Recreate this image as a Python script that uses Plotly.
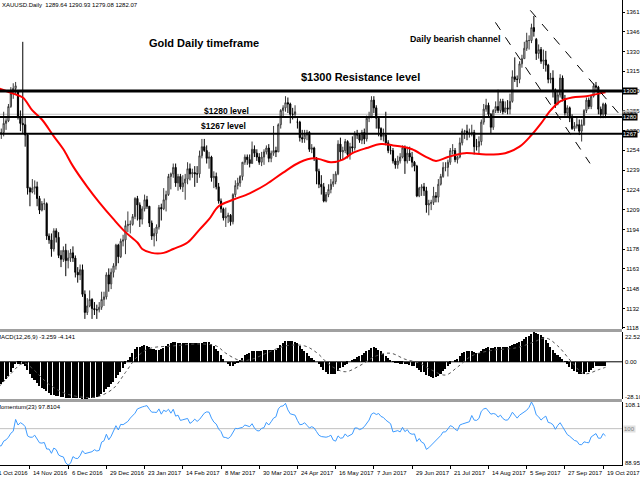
import plotly.graph_objects as go

# ---------------- data ----------------
tick_dates = ["21 Oct 2016", "14 Nov 2016", "6 Dec 2016", "29 Dec 2016", "23 Jan 2017",
              "14 Feb 2017", "8 Mar 2017", "30 Mar 2017", "24 Apr 2017", "16 May 2017",
              "7 Jun 2017", "29 Jun 2017", "21 Jul 2017", "14 Aug 2017", "5 Sep 2017",
              "27 Sep 2017", "19 Oct 2017"]
tick_bars = [0, 16, 32, 48, 64, 80, 96, 112, 128, 144, 160, 176, 192, 208, 224, 240, 256]

open_ = [1267, 1266, 1263, 1273, 1267, 1268, 1275, 1277, 1288, 1298,
         1302, 1300, 1280, 1275, 1274, 1266, 1225, 1222, 1225, 1226,
         1217, 1208, 1213, 1213, 1188, 1185, 1178, 1192, 1187, 1173,
         1170, 1177, 1169, 1171, 1175, 1171, 1160, 1158, 1162, 1143,
         1129, 1134, 1139, 1132, 1131, 1131, 1133, 1139, 1141, 1158,
         1151, 1160, 1165, 1181, 1172, 1184, 1185, 1196, 1197, 1197,
         1203, 1217, 1212, 1201, 1209, 1216, 1211, 1198, 1188, 1190,
         1195, 1210, 1209, 1216, 1220, 1234, 1236, 1241, 1229, 1234,
         1226, 1229, 1232, 1240, 1236, 1237, 1236, 1236, 1250, 1257,
         1254, 1248, 1249, 1233, 1234, 1226, 1215, 1209, 1202, 1203,
         1204, 1199, 1220, 1227, 1229, 1234, 1245, 1249, 1247, 1244,
         1255, 1252, 1249, 1245, 1249, 1253, 1256, 1248, 1252, 1254,
         1253, 1274, 1285, 1287, 1291, 1290, 1282, 1282, 1276, 1276,
         1264, 1263, 1266, 1268, 1255, 1256, 1248, 1238, 1228, 1226,
         1215, 1220, 1224, 1228, 1230, 1236, 1259, 1253, 1254, 1261,
         1251, 1257, 1256, 1267, 1266, 1262, 1268, 1263, 1279, 1280,
         1293, 1287, 1279, 1271, 1265, 1266, 1260, 1254, 1254, 1246,
         1243, 1246, 1249, 1256, 1246, 1252, 1249, 1245, 1242, 1219,
         1225, 1226, 1223, 1212, 1213, 1214, 1219, 1218, 1228, 1234,
         1241, 1241, 1245, 1254, 1254, 1247, 1249, 1260, 1269, 1269,
         1267, 1268, 1268, 1257, 1257, 1261, 1276, 1286, 1289, 1282,
         1272, 1285, 1288, 1285, 1292, 1284, 1287, 1286, 1292, 1311,
         1309, 1309, 1321, 1325, 1333, 1339, 1339, 1349, 1340, 1329,
         1332, 1323, 1324, 1320, 1309, 1310, 1301, 1290, 1297, 1310,
         1294, 1283, 1287, 1279, 1271, 1273, 1274, 1269, 1274, 1285,
         1293, 1288, 1296, 1304, 1303, 1286, 1282, 1289.64]

high = [1270, 1268, 1276, 1277, 1271, 1284, 1279, 1290, 1303, 1306,
        1307, 1300, 1285, 1338, 1280, 1267, 1226, 1232, 1231, 1230,
        1219, 1215, 1217, 1214, 1190, 1190, 1194, 1194, 1191, 1177,
        1180, 1182, 1177, 1178, 1180, 1173, 1164, 1166, 1166, 1146,
        1140, 1146, 1140, 1137, 1135, 1137, 1145, 1145, 1160, 1163,
        1163, 1167, 1182, 1182, 1186, 1189, 1200, 1207, 1200, 1205,
        1218, 1219, 1214, 1211, 1220, 1219, 1211, 1200, 1194, 1197,
        1212, 1213, 1225, 1223, 1236, 1237, 1244, 1244, 1236, 1236,
        1235, 1236, 1245, 1244, 1240, 1242, 1242, 1254, 1263, 1263,
        1258, 1253, 1250, 1238, 1237, 1229, 1217, 1210, 1210, 1206,
        1205, 1221, 1231, 1233, 1235, 1245, 1251, 1251, 1251, 1261,
        1258, 1255, 1252, 1253, 1255, 1258, 1259, 1254, 1273, 1257,
        1275, 1286, 1289, 1296, 1295, 1291, 1287, 1289, 1279, 1277,
        1270, 1270, 1270, 1269, 1259, 1257, 1249, 1240, 1235, 1229,
        1222, 1228, 1232, 1236, 1238, 1262, 1264, 1257, 1263, 1262,
        1260, 1265, 1269, 1270, 1267, 1270, 1271, 1281, 1284, 1296,
        1296, 1289, 1280, 1272, 1271, 1284, 1262, 1258, 1256, 1248,
        1250, 1252, 1258, 1258, 1257, 1257, 1253, 1246, 1243, 1226,
        1228, 1229, 1226, 1216, 1216, 1226, 1222, 1232, 1236, 1245,
        1245, 1247, 1256, 1259, 1256, 1250, 1264, 1271, 1270, 1274,
        1271, 1274, 1270, 1263, 1265, 1278, 1290, 1294, 1291, 1283,
        1286, 1292, 1301, 1294, 1294, 1292, 1293, 1298, 1316, 1326,
        1312, 1323, 1328, 1338, 1345, 1343, 1352, 1358, 1341, 1336,
        1334, 1332, 1331, 1321, 1314, 1316, 1302, 1300, 1313, 1312,
        1297, 1289, 1288, 1282, 1276, 1280, 1278, 1278, 1286, 1295,
        1295, 1297, 1306, 1307, 1304, 1288, 1291, 1290.93]

low = [1260, 1261, 1262, 1266, 1263, 1265, 1270, 1276, 1287, 1294,
       1297, 1278, 1269, 1267, 1257, 1220, 1211, 1221, 1220, 1211,
       1205, 1207, 1208, 1185, 1182, 1172, 1176, 1183, 1171, 1164,
       1168, 1157, 1163, 1168, 1168, 1156, 1152, 1154, 1141, 1124,
       1127, 1133, 1124, 1127, 1124, 1129, 1131, 1134, 1139, 1145,
       1147, 1156, 1162, 1167, 1171, 1180, 1174, 1191, 1190, 1196,
       1201, 1200, 1195, 1197, 1207, 1209, 1195, 1185, 1180, 1184,
       1193, 1200, 1208, 1207, 1219, 1224, 1233, 1226, 1223, 1224,
       1222, 1216, 1228, 1231, 1233, 1226, 1229, 1233, 1248, 1253,
       1244, 1240, 1230, 1225, 1224, 1213, 1206, 1200, 1195, 1198,
       1196, 1197, 1218, 1224, 1226, 1231, 1243, 1243, 1241, 1244,
       1249, 1246, 1243, 1242, 1243, 1251, 1245, 1245, 1250, 1249,
       1253, 1271, 1280, 1284, 1283, 1275, 1278, 1279, 1271, 1261,
       1260, 1260, 1262, 1253, 1252, 1246, 1228, 1225, 1220, 1214,
       1214, 1218, 1221, 1226, 1228, 1235, 1246, 1247, 1252, 1248,
       1247, 1253, 1254, 1263, 1260, 1259, 1259, 1261, 1276, 1279,
       1283, 1271, 1265, 1262, 1261, 1258, 1252, 1251, 1244, 1240,
       1240, 1244, 1248, 1236, 1244, 1246, 1241, 1238, 1218, 1218,
       1219, 1219, 1206, 1204, 1208, 1212, 1214, 1214, 1227, 1233,
       1238, 1234, 1243, 1251, 1245, 1244, 1248, 1258, 1263, 1262,
       1264, 1265, 1251, 1254, 1252, 1258, 1274, 1284, 1280, 1267,
       1270, 1283, 1283, 1283, 1282, 1283, 1282, 1282, 1291, 1307,
       1303, 1306, 1318, 1325, 1331, 1332, 1337, 1342, 1324, 1325,
       1321, 1317, 1315, 1306, 1306, 1295, 1287, 1289, 1295, 1292,
       1281, 1280, 1276, 1270, 1269, 1271, 1266, 1261, 1273, 1283,
       1286, 1286, 1295, 1299, 1282, 1279, 1279, 1279.08]

close = [1266, 1263, 1273, 1267, 1268, 1275, 1277, 1288, 1298, 1302,
         1304, 1280, 1275, 1274, 1266, 1225, 1222, 1225, 1226, 1217,
         1208, 1213, 1213, 1188, 1185, 1178, 1192, 1187, 1173, 1170,
         1177, 1169, 1171, 1175, 1171, 1160, 1158, 1162, 1143, 1129,
         1134, 1139, 1132, 1131, 1131, 1133, 1139, 1141, 1158, 1151,
         1160, 1165, 1181, 1172, 1184, 1185, 1196, 1197, 1197, 1203,
         1217, 1212, 1201, 1209, 1216, 1211, 1198, 1188, 1190, 1195,
         1210, 1209, 1216, 1220, 1234, 1236, 1241, 1229, 1234, 1226,
         1229, 1232, 1240, 1236, 1237, 1236, 1236, 1250, 1257, 1254,
         1248, 1249, 1233, 1234, 1226, 1215, 1209, 1202, 1203, 1204,
         1199, 1220, 1227, 1229, 1234, 1245, 1249, 1247, 1244, 1255,
         1252, 1249, 1245, 1249, 1253, 1256, 1248, 1252, 1254, 1253,
         1274, 1285, 1287, 1291, 1290, 1282, 1282, 1284, 1276, 1264,
         1263, 1266, 1268, 1255, 1256, 1248, 1238, 1228, 1226, 1215,
         1220, 1224, 1228, 1230, 1236, 1259, 1253, 1254, 1261, 1251,
         1257, 1256, 1267, 1266, 1262, 1268, 1263, 1279, 1280, 1293,
         1287, 1279, 1271, 1265, 1266, 1260, 1254, 1254, 1246, 1243,
         1246, 1249, 1256, 1246, 1252, 1249, 1245, 1242, 1219, 1225,
         1226, 1223, 1212, 1213, 1214, 1219, 1218, 1228, 1234, 1241,
         1241, 1245, 1254, 1254, 1247, 1249, 1260, 1269, 1269, 1267,
         1268, 1268, 1257, 1257, 1261, 1276, 1286, 1289, 1282, 1272,
         1285, 1288, 1285, 1292, 1284, 1287, 1286, 1292, 1311, 1309,
         1309, 1321, 1325, 1333, 1339, 1339, 1349, 1346, 1329, 1332,
         1323, 1324, 1320, 1309, 1310, 1301, 1290, 1297, 1310, 1294,
         1283, 1287, 1279, 1271, 1273, 1274, 1269, 1274, 1285, 1293,
         1288, 1296, 1304, 1303, 1286, 1282, 1290, 1282.07]

# red moving average (bar number, price)
ma_bar = [3, 9, 13, 17, 21, 26, 30, 34, 40, 45, 51, 56, 61, 63, 67, 72, 76, 82, 87, 91,
          95, 101, 108, 115, 122, 129, 135, 138, 142, 147, 151, 157, 163, 168, 172, 176,
          182, 186, 191, 198, 207, 215, 221, 226, 230, 234, 238, 243, 249, 254, 257]
ma_val = [1302, 1298, 1295, 1285, 1278, 1265, 1255, 1242, 1226, 1214, 1201, 1191, 1183, 1178,
          1175, 1175, 1178, 1183, 1193, 1201, 1211, 1216, 1221, 1228, 1237, 1245, 1248, 1247,
          1245, 1247, 1252, 1256, 1259, 1258, 1257, 1255, 1249, 1246, 1249, 1252, 1251, 1252,
          1257, 1266, 1275, 1285, 1292, 1295, 1296, 1298, 1299]

macd = [-22, -21, -19.5, -18, -17, -15, -13, -10.5, -7.5, -4.5,
        -2, -1.5, -1.5, -2, -3, -6.5, -9.5, -12, -14, -16,
        -18, -19.5, -20.5, -22, -23.5, -25, -25, -25.5, -26, -26.5,
        -26.5, -27, -27, -27, -27, -27, -27.5, -27.5, -28, -28.1,
        -28, -27.5, -27.5, -27, -26.5, -25.5, -24, -22.5, -20.5, -19,
        -17, -15, -12, -10, -7.5, -5, -1.5, 1.5, 4, 6.5,
        9.5, 11, 11.5, 12, 12.5, 12, 11, 10, 9.5, 9,
        9, 9.5, 10.5, 12, 13.5, 14.5, 15, 15, 14.5, 14,
        14, 14, 14, 14, 14, 14, 14, 14, 14.5, 15,
        15, 15, 13.5, 12, 10, 8, 5.5, 2.5, 0, -2,
        -3, -3, -2, -1, 1, 3, 5, 6, 7, 8,
        8.5, 8.5, 8.5, 8.5, 9, 9, 9, 9, 9, 9,
        10.5, 13, 14.5, 15.5, 16, 16, 15.5, 15, 14, 12,
        10, 8, 6.5, 4.5, 3, 1.5, 0, -2, -4, -6.5,
        -8, -9, -9.5, -9.5, -9, -7, -5, -4, -2.5, -1.5,
        0, 1, 2, 3.5, 4.5, 5.5, 6.5, 8, 9, 10.5,
        11, 10.5, 9, 8, 6, 4.5, 3, 1.5, 0.5, -0.5,
        -1, -1.5, -1.5, -2, -2, -2.5, -3, -3.5, -5, -6.5,
        -7.5, -8, -10, -11, -11.5, -12, -11.5, -10.5, -9, -7,
        -5.5, -3.5, -1.5, 0, 1, 2.5, 4.5, 6.5, 7.5, 8.5,
        8.5, 8.5, 7.5, 7, 7, 8, 9.5, 10.5, 11, 10.5,
        10.5, 11, 11, 11.5, 11.5, 11.5, 11.5, 12, 13, 13.5,
        14, 15, 16, 17, 18.5, 19.5, 21, 22.52, 21.5, 21,
        20.5, 18.5, 16.5, 14.5, 11.5, 9, 6.5, 5, 4, 2.5,
        0.5, -1.5, -4, -5.5, -7, -8, -9, -9.5, -9, -8,
        -7.5, -6.5, -4.5, -3, -3, -3.5, -3, -3.259]

sig_bar = [3, 8, 12, 14, 17, 24, 31, 40, 45, 51, 56, 61, 66, 76, 87, 94, 98, 104, 109, 115,
           123, 131, 136, 142, 148, 154, 161, 167, 173, 179, 184, 190, 195, 201, 209, 220,
           227, 232, 237, 243, 248, 254, 257]
sig_val = [-19, -9, -2, -1, -5, -17, -24, -27, -26, -20, -8, 4, 10, 12, 13.5, 12, 6.5, 1, 2, 6.5,
           12, 12, 7, -3, -7.5, -3, 4.5, 6.5, 2, -1, -6, -10, -4, 4.5, 8.5, 10.7,
           15, 18, 12, -0.5, -9, -6, -4.141]

momentum = [96.3, 94.7, 95.3, 94.7, 94.8, 96.2, 96.6, 97.4, 98.6, 99.2,
            102.8, 101.1, 101.8, 101.4, 100.6, 97.8, 97.4, 97.4, 98.0, 97.0,
            95.7, 95.6, 95.8, 93.8, 93.8, 92.5, 94.1, 93.6, 92.0, 91.6,
            91.4, 89.6, 88.95, 89.5, 91.5, 91.0, 90.9, 91.8, 93.3, 92.4,
            92.6, 92.9, 93.0, 93.6, 93.2, 93.4, 95.9, 96.3, 98.3, 96.6,
            97.7, 99.3, 100.9, 99.6, 101.3, 101.2, 101.8, 102.2, 103.2, 103.9,
            104.7, 106.0, 106.4, 106.6, 106.8, 107.0, 105.9, 105.0, 105.0, 104.9,
            106.0, 104.4, 105.6, 105.2, 105.9, 104.7, 105.9, 103.8, 104.1, 102.5,
            102.7, 102.9, 103.1, 101.6, 102.1, 102.9, 102.2, 102.8, 103.8, 104.7,
            105.1, 105.0, 103.2, 102.0, 101.4, 99.9, 99.1, 97.4, 97.3, 97.0,
            97.6, 98.9, 100.1, 100.0, 100.2, 100.4, 101.1, 100.8, 100.6, 101.5,
            100.2, 99.4, 99.3, 100.1, 100.3, 101.9, 101.1, 102.1, 103.2, 103.6,
            106.0, 106.8, 106.9, 107.7, 105.7, 104.5, 104.3, 104.1, 102.5, 101.2,
            101.3, 101.8, 101.0, 100.2, 100.6, 100.2, 99.1, 98.0, 97.6, 97.4,
            97.4, 97.6, 98.0, 96.5, 96.2, 97.8, 97.1, 97.2, 98.4, 97.6,
            97.9, 98.4, 100.2, 100.2, 99.7, 100.0, 100.6, 101.8, 102.6, 104.4,
            104.8, 104.3, 104.6, 103.7, 103.4, 102.6, 102.0, 101.5, 99.0, 99.2,
            99.4, 99.0, 100.4, 99.1, 99.7, 98.6, 98.3, 98.4, 96.1, 97.0,
            95.9, 95.5, 93.7, 94.2, 94.9, 95.9, 96.3, 97.0, 97.9, 99.0,
            99.0, 99.9, 100.9, 100.6, 99.8, 99.4, 101.1, 101.4, 101.6, 101.8,
            102.1, 104.0, 102.6, 102.5, 103.1, 105.3, 106.0, 106.2, 105.2, 104.4,
            104.6, 104.4, 103.5, 104.1, 103.1, 102.6, 102.6, 103.6, 105.0, 103.9,
            103.2, 104.1, 104.6, 105.1, 105.6, 106.5, 108.1, 106.7, 104.2, 103.6,
            102.6, 103.3, 103.8, 101.9, 101.7, 101.2, 99.8, 101.0, 101.8, 100.6,
            99.3, 98.2, 97.7, 97.1, 96.4, 96.2, 95.2, 95.1, 96.0, 95.8,
            95.7, 97.5, 97.9, 98.5, 97.1, 97.1, 98.5, 97.81]

price_ticks = [1361, 1345.8, 1330.5, 1315.2, 1300, 1284.7, 1269.4, 1254.2, 1238.9, 1223.6,
               1208.4, 1193.1, 1177.8, 1162.6, 1147.3, 1132, 1117]
price_tick_text = ["1361", "1346", "1330", "1315", "1300", "1285", "1270", "1254", "1239",
                   "1224", "1209", "1194", "1178", "1163", "1148", "1132", "1118"]

levels = [1300, 1280, 1267]
level_width = [3, 2, 2]
bid = 1282.07
# dashed channel lines: (bar0, price0, bar1, price1)
channel = [(210.9, 1353.0, 250.5, 1244.1), (225.5, 1362.3, 264.3, 1278.9)]

bars = list(range(len(close)))

# ---------------- layout constants ----------------
X0, X1 = 3.46, 263.9
FONT = "Liberation Sans, Arial, sans-serif"
W_PLOT = 624.0
H_PLOT = 465.0


def py(pix):
    return (H_PLOT - pix) / H_PLOT


fig = go.Figure()

fig.add_trace(go.Candlestick(
    x=bars, open=open_, high=high, low=low, close=close,
    increasing=dict(line=dict(color="#3a3a3a", width=1), fillcolor="white"),
    decreasing=dict(line=dict(color="black", width=1), fillcolor="black"),
    whiskerwidth=0, xaxis="x", yaxis="y", hoverinfo="skip", showlegend=False))

fig.add_trace(go.Scatter(x=ma_bar, y=ma_val, mode="lines", line=dict(color="#ff0000", width=2, shape="spline"),
                         xaxis="x", yaxis="y", hoverinfo="skip", showlegend=False))

fig.add_trace(go.Bar(x=bars, y=macd, marker=dict(color="black", line=dict(width=0)), width=0.65,
                     xaxis="x", yaxis="y2", hoverinfo="skip", showlegend=False))
fig.add_trace(go.Scatter(x=sig_bar, y=sig_val, mode="lines",
                         line=dict(color="#555555", width=1, dash="dot", shape="spline"),
                         xaxis="x", yaxis="y2", hoverinfo="skip", showlegend=False))

fig.add_trace(go.Scatter(x=bars, y=momentum, mode="lines", line=dict(color="#3d9bff", width=1),
                         xaxis="x", yaxis="y3", hoverinfo="skip", showlegend=False))

shapes = []
for lv, lw in zip(levels, level_width):
    shapes.append(dict(type="line", xref="paper", x0=0, x1=1, yref="y", y0=lv, y1=lv,
                       line=dict(color="black", width=lw)))
shapes.append(dict(type="line", xref="paper", x0=0, x1=1, yref="y", y0=bid, y1=bid,
                   line=dict(color="#c0c0c0", width=1), layer="below"))
for b0, p0, b1, p1 in channel:
    shapes.append(dict(type="line", xref="x", yref="y", x0=b0, y0=p0, x1=b1, y1=p1,
                       line=dict(color="black", width=1, dash="dash")))
# macd zero line, momentum 100 line
shapes.append(dict(type="line", xref="paper", x0=0, x1=1, yref="y2", y0=0, y1=0,
                   line=dict(color="black", width=1), layer="below"))
shapes.append(dict(type="line", xref="paper", x0=0, x1=1, yref="y3", y0=100, y1=100,
                   line=dict(color="#c0c0c0", width=1), layer="below"))
# window separators
for a, b in [(329, 332), (399, 402)]:
    shapes.append(dict(type="rect", xref="paper", yref="paper", x0=0, x1=1, y0=py(b), y1=py(a),
                       fillcolor="#a0a0a0", line=dict(width=0)))

ann = []
small = dict(family=FONT, size=6, color="black")
ann.append(dict(text="XAUUSD.Daily  1289.64 1290.93 1279.08 1282.07", xref="paper", yref="paper",
                x=0.0, y=py(5), xanchor="left", yanchor="middle", showarrow=False, font=small))
ann.append(dict(text="MACD(12,26,9) -3.259 -4.141", xref="paper", yref="paper",
                x=-6.5 / W_PLOT, y=py(337), xanchor="left", yanchor="middle", showarrow=False, font=small))
ann.append(dict(text="Momentum(23) 97.8104", xref="paper", yref="paper",
                x=-6.5 / W_PLOT, y=py(407), xanchor="left", yanchor="middle", showarrow=False, font=small))

for b, t in zip(tick_bars, tick_dates):
    ann.append(dict(text=t, xref="paper", yref="paper", x=(b - X0) / (X1 - X0) + 1.5 / W_PLOT,
                    y=py(473), xanchor="left", yanchor="middle", showarrow=False, font=small))

big = dict(family=FONT, size=11, color="black")
mid = dict(family=FONT, size=8.8, color="black")
ann.append(dict(text="<b>Gold Daily timeframe</b>", x=64.8, y=1336.8, xref="x", yref="y",
                xanchor="left", yanchor="middle", showarrow=False, font=big))
ann.append(dict(text="<b>$1300 Resistance level</b>", x=128.7, y=1310.6, xref="x", yref="y",
                xanchor="left", yanchor="middle", showarrow=False, font=big))
ann.append(dict(text="<b>Daily bearish channel</b>", x=174.2, y=1340.3, xref="x", yref="y",
                xanchor="left", yanchor="middle", showarrow=False, font=mid))
ann.append(dict(text="<b>$1280 level</b>", x=88.2, y=1284.7, xref="x", yref="y",
                xanchor="left", yanchor="middle", showarrow=False,
                font=dict(family=FONT, size=8.5, color="black")))
ann.append(dict(text="<b>$1267 level</b>", x=86.9, y=1272.7, xref="x", yref="y",
                xanchor="left", yanchor="middle", showarrow=False,
                font=dict(family=FONT, size=8.5, color="black")))

# right-side boxed labels
box_font = dict(family=FONT, size=6, color="white")
ann.append(dict(text="1282", xref="paper", yref="y", x=1.0, y=bid, xanchor="left", yanchor="middle",
                showarrow=False, bgcolor="#c0c0c0", font=dict(family=FONT, size=6, color="black"), borderpad=0))
for lv in levels:
    ann.append(dict(text=str(lv), xref="paper", yref="y", x=1.0, y=lv, xanchor="left", yanchor="middle",
                    showarrow=False, bgcolor="black", font=box_font, borderpad=0))
# sub-window scale labels
ann.append(dict(text="22.52", xref="paper", yref="paper", x=1.0, y=py(337), xanchor="left",
                yanchor="middle", showarrow=False, font=small, xshift=1))
ann.append(dict(text="0.00", xref="paper", yref="y2", x=1.0, y=0, xanchor="left",
                yanchor="middle", showarrow=False, font=small, xshift=1))
ann.append(dict(text="-28.10", xref="paper", yref="paper", x=1.0, y=py(397), xanchor="left",
                yanchor="middle", showarrow=False, font=small, xshift=1))
ann.append(dict(text="108.10", xref="paper", yref="paper", x=1.0, y=py(405), xanchor="left",
                yanchor="middle", showarrow=False, font=small, xshift=1))
ann.append(dict(text="100", xref="paper", yref="y3", x=1.0, y=100, xanchor="left",
                yanchor="middle", showarrow=False, font=dict(family=FONT, size=6, color="#808080"),
                bgcolor="#e0e0e0", xshift=1, borderpad=0))
ann.append(dict(text="88.95", xref="paper", yref="paper", x=1.0, y=py(463), xanchor="left",
                yanchor="middle", showarrow=False, font=small, xshift=1))

fig.update_layout(
    width=640, height=480,
    margin=dict(l=0, r=16, t=0, b=15),
    paper_bgcolor="white", plot_bgcolor="white",
    showlegend=False, hovermode=False, bargap=0,
    shapes=shapes, annotations=ann,
    xaxis=dict(range=[X0, X1], anchor="y3", showgrid=False, zeroline=False,
               tickvals=tick_bars, showticklabels=False, ticks="outside", ticklen=3,
               tickcolor="black", showline=True, linecolor="black", linewidth=1,
               rangeslider=dict(visible=False)),
    yaxis=dict(domain=[py(329), 1.0], range=[1116.2, 1370.3], side="right", anchor="x",
               showgrid=False, zeroline=False, tickvals=price_ticks, ticktext=price_tick_text,
               ticks="outside", ticklen=2, tickcolor="black", tickfont=small,
               showline=True, linecolor="black", linewidth=1),
    yaxis2=dict(domain=[py(399), py(332)], range=[-28.1, 22.52], side="right", anchor="x",
                showgrid=False, zeroline=False, showticklabels=False, ticks="",
                showline=True, linecolor="black", linewidth=1),
    yaxis3=dict(domain=[0.0, py(402)], range=[88.95, 108.1], side="right", anchor="x",
                showgrid=False, zeroline=False, showticklabels=False, ticks="",
                showline=True, linecolor="black", linewidth=1),
)

fig.write_html("out.html", config={"displayModeBar": False},
               post_script="document.body.style.margin='0px';document.body.style.overflow='hidden';")
